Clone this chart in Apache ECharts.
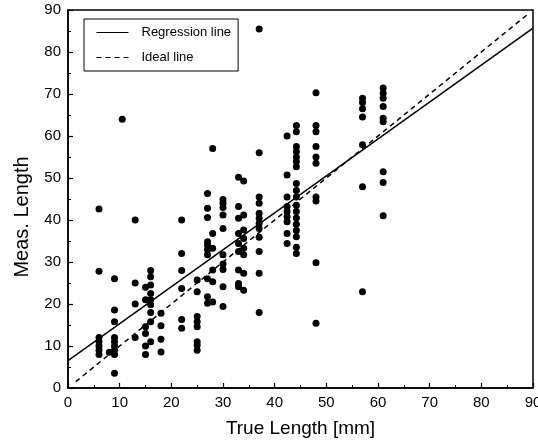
<!DOCTYPE html>
<html>
<head>
<meta charset="utf-8">
<script src="https://cdn.jsdelivr.net/npm/echarts@6/dist/echarts.min.js"></script>
<style>
  html, body { margin: 0; padding: 0; background: #fff; }
  #chart { width: 538px; height: 447px; }
</style>
</head>
<body>
<div id="chart"></div>
<script>
// Measured lengths grouped by true length (mm)
const trueLengths = [6, 8, 9, 10.5, 13, 15, 16, 18, 22, 25, 27, 28, 30, 33, 34, 37, 42.4, 44.2, 48, 57, 61];
const measLengths = [
  [42.6, 27.8, 12, 11, 10, 9, 8],
  [8.5],
  [26, 18.6, 15.8, 12, 11, 10, 9, 8, 3.5],
  [64],
  [40, 25, 20, 12],
  [24, 21, 14.6, 13, 10, 8],
  [28, 26.5, 24.5, 22.5, 21, 19.8, 18, 15.8, 11],
  [17.8, 14.8, 11.6, 8.6],
  [40, 32, 28, 23.7, 16.3, 14.2],
  [25.7, 22.9, 17, 15.8, 14.6, 11, 10.2, 9],
  [46.3, 42.8, 40.6, 34.8, 34, 32.9, 31.7, 26, 21.7, 20.2],
  [57, 36.8, 33.3, 28.1, 25.3, 20.5],
  [44.9, 44, 43, 41.2, 38, 31.7, 29.5, 28.2, 24.1, 19.4],
  [50.2, 43.2, 40.4, 36.8, 34.4, 32.5, 28.1, 24.9, 24.1],
  [49.3, 41.2, 37.6, 35.6, 33.3, 31.7, 27.3, 23.3],
  [85.5, 56, 45.5, 44, 41.6, 40.4, 39.2, 38, 35.9, 32.5, 27.3, 18],
  [60, 50.7, 45.5, 43.2, 42, 40.8, 39.6, 36.8, 34.4],
  [62.5, 61, 57.5, 56.3, 55, 53.9, 52.7, 48.7, 47, 45.5, 43.5, 42, 40.5, 39, 37.5, 36, 33.5, 32],
  [70.3, 62.5, 61, 57.5, 55, 53.5, 45.5, 44.5, 29.8, 15.4],
  [69, 68, 66.5, 64.5, 57.9, 47.9, 22.9],
  [71.4, 70.2, 69, 67, 64.2, 63.4, 51.5, 48.9, 41]
];
// Line end points [true, measured]
const regressionLine = [[0, 6.5], [90, 85.7]];
const idealLine = [[1.5, 1.5], [89, 89]];
const axisTicks = [0, 10, 20, 30, 40, 50, 60, 70, 80, 90];

const points = [];
trueLengths.forEach((x, i) => measLengths[i].forEach(y => points.push([x, y])));

const font = '"Liberation Sans", Arial, Helvetica, sans-serif';
const axisCommon = {
  type: 'value',
  min: axisTicks[0],
  max: axisTicks[axisTicks.length - 1],
  interval: axisTicks[1] - axisTicks[0],
  axisLine: { show: true, lineStyle: { color: '#000', width: 1.5 } },
  axisTick: { show: true, inside: true, length: 5, lineStyle: { color: '#000', width: 1.2 } },
  minorTick: { show: true, splitNumber: 2, length: 3, lineStyle: { color: '#000', width: 1 } },
  splitLine: { show: false },
  axisLabel: { color: '#000', fontSize: 15, fontFamily: font, margin: 7 },
  nameLocation: 'middle'
};

const chart = echarts.init(document.getElementById('chart'), null, { renderer: 'canvas' });
chart.setOption({
  animation: false,
  backgroundColor: '#fff',
  grid: {
    left: 68, right: 5, top: 10, bottom: 59,
    show: true, borderColor: '#000', borderWidth: 1.5,
    containLabel: false, outerBoundsMode: 'none'
  },
  xAxis: Object.assign({}, axisCommon, {
    name: 'True Length [mm]', nameGap: 31,
    nameTextStyle: { color: '#000', fontSize: 19, fontFamily: font }
  }),
  yAxis: Object.assign({}, axisCommon, {
    name: 'Meas. Length', nameGap: 36,
    nameTextStyle: { color: '#000', fontSize: 20, fontFamily: font, padding: [0, 36, 0, 0] }
  }),
  legend: {
    orient: 'vertical',
    left: 84, top: 19,
    data: ['Regression line', 'Ideal line'],
    itemWidth: 32, itemHeight: 14, itemGap: 12,
    padding: [7, 7, 7, 12],
    borderColor: '#000', borderWidth: 1,
    backgroundColor: '#fff',
    itemStyle: { color: 'rgba(0,0,0,0)', borderWidth: 0 },
    lineStyle: { width: 1 },
    textStyle: { color: '#000', fontSize: 13, fontFamily: font, padding: [0, 0, 0, 8] },
    selectedMode: false
  },
  series: [
    {
      type: 'scatter', name: 'Data', data: points,
      symbol: 'circle', symbolSize: 7,
      itemStyle: { color: '#000', opacity: 1 }, z: 2
    },
    {
      type: 'line', name: 'Regression line', data: regressionLine,
      symbol: 'none', itemStyle: { color: '#000' },
      lineStyle: { color: '#000', width: 1.5, type: 'solid' }, z: 3
    },
    {
      type: 'line', name: 'Ideal line', data: idealLine,
      symbol: 'none', itemStyle: { color: '#000' },
      lineStyle: { color: '#000', width: 1.5, type: [5, 4] }, z: 3
    }
  ]
});
</script>
</body>
</html>
